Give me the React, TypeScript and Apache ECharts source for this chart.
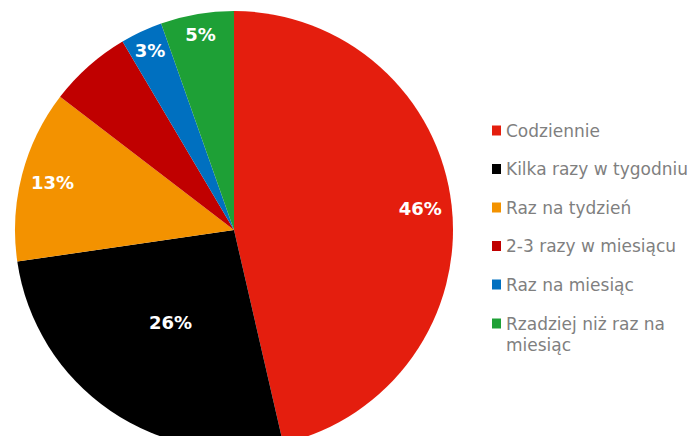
import React, { useEffect, useRef } from "react";
import * as echarts from "echarts";

const categories = [
  "Codziennie",
  "Kilka razy w tygodniu",
  "Raz na tydzień",
  "2-3 razy w miesiącu",
  "Raz na miesiąc",
  "Rzadziej niż raz na miesiąc",
];
const values = [46.4, 26.3, 12.7, 6.1, 3.1, 5.4];
const colors = ["#E41E0E", "#000000", "#F39200", "#C00000", "#0070C0", "#1EA036"];
// which slices show their label where: "mid" (half radius), "rim", "edge" (closest to rim), or none
const labelPlace = ["rim", "mid", "rim", "none", "edge", "edge"];

export default function App() {
  const ref = useRef<HTMLDivElement>(null);
  useEffect(() => {
    if (!ref.current) return;
    const chart = echarts.init(ref.current, null, { renderer: "svg" });
    const labelStyle = {
      color: "#ffffff",
      fontFamily: "DejaVu Sans",
      fontWeight: "bold" as const,
      fontSize: 18,
      formatter: (p: any) => Math.round(p.percent) + "%",
    };
    const lastName = categories[categories.length - 1];
    const center = [234, 230];
    const R = 219;
    const ring = (inner: number, place: string) => ({
      type: "pie",
      center,
      radius: [inner, R],
      startAngle: 90,
      clockwise: true,
      silent: true,
      itemStyle: { color: "rgba(0,0,0,0)" },
      label: { show: false, position: "inside", ...labelStyle },
      labelLine: { show: false },
      data: categories.map((c, i) => ({
        name: c,
        value: values[i],
        label: { show: labelPlace[i] === place },
      })),
    });
    const legendText = {
      color: "#7f7f7f",
      fontFamily: "DejaVu Sans",
      fontSize: 17,
      lineHeight: 21,
    };
    chart.setOption({
      animation: false,
      legend: [
        {
          orient: "vertical",
          left: 487,
          top: 115,
          icon: "rect",
          itemWidth: 9,
          itemHeight: 10,
          itemGap: 17.5,
          selectedMode: false,
          textStyle: legendText,
          data: categories.slice(0, 5),
        },
        {
          orient: "vertical",
          left: 487,
          top: 287,
          icon: "rect",
          itemWidth: 9,
          itemHeight: 10,
          selectedMode: false,
          formatter: () => "\nRzadziej niż raz na\nmiesiąc",
          textStyle: legendText,
          data: [lastName],
        },
      ],
      series: [
        {
          type: "pie",
          center,
          radius: [0, R],
          startAngle: 90,
          clockwise: true,
          silent: true,
          label: { show: false, position: "inside", ...labelStyle },
          labelLine: { show: false },
          data: categories.map((c, i) => ({
            name: c,
            value: values[i],
            itemStyle: { color: colors[i] },
            label: { show: labelPlace[i] === "mid" },
          })),
        },
        ring(150, "rim"),
        ring(172, "edge"),
      ],
    });
    return () => chart.dispose();
  }, []);
  return (
    <div
      ref={ref}
      style={{ position: "absolute", left: 0, top: 0, width: 689, height: 436 }}
    />
  );
}
